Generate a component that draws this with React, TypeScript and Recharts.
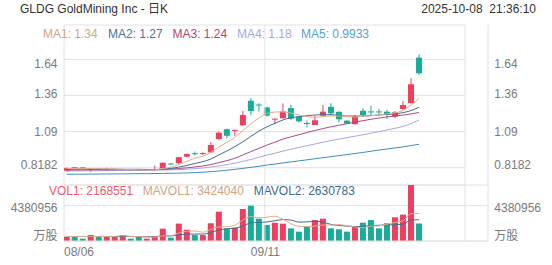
import React from 'react';
import { ComposedChart, Bar, Line, XAxis, YAxis, CartesianGrid, ReferenceLine } from 'recharts';

const dates = [
  '08/06', '08/07', '08/08', '08/11', '08/12', '08/13', '08/14', '08/15', '08/18', '08/19',
  '08/20', '08/21', '08/22', '08/25', '08/26', '08/27', '08/28', '08/29', '09/02', '09/03',
  '09/04', '09/05', '09/08', '09/09', '09/10', '09/11', '09/12', '09/15', '09/16', '09/17',
  '09/18', '09/19', '09/22', '09/23', '09/24', '09/25', '09/26', '09/29', '09/30', '10/01',
  '10/02', '10/03', '10/06', '10/07', '10/08',
];

const opens = [
  0.795, 0.822, 0.821, 0.806, 0.809, 0.803, 0.803, 0.802, 0.804, 0.803,
  0.800, 0.801, 0.816, 0.850, 0.853, 0.902, 0.928, 0.925, 0.935, 1.035,
  1.110, 1.098, 1.140, 1.326, 1.297, 1.275, 1.185, 1.193, 1.270, 1.205,
  1.157, 1.142, 1.213, 1.280, 1.242, 1.175, 1.148, 1.250, 1.245, 1.245,
  1.243, 1.205, 1.263, 1.307, 1.653,
];
const closes = [
  0.815, 0.816, 0.814, 0.809, 0.806, 0.806, 0.805, 0.804, 0.801, 0.800,
  0.802, 0.806, 0.856, 0.845, 0.898, 0.922, 0.925, 0.930, 0.990, 1.084,
  1.060, 1.105, 1.218, 1.248, 1.292, 1.213, 1.190, 1.245, 1.190, 1.170,
  1.153, 1.178, 1.243, 1.230, 1.185, 1.152, 1.210, 1.218, 1.240, 1.240,
  1.218, 1.238, 1.294, 1.451, 1.534,
];
const highs = [
  0.820, 0.824, 0.823, 0.812, 0.811, 0.818, 0.807, 0.806, 0.806, 0.805,
  0.804, 0.835, 0.858, 0.853, 0.900, 0.925, 0.940, 0.935, 1.013, 1.090,
  1.115, 1.107, 1.249, 1.345, 1.307, 1.280, 1.192, 1.305, 1.295, 1.210,
  1.175, 1.213, 1.294, 1.307, 1.245, 1.178, 1.218, 1.268, 1.288, 1.265,
  1.256, 1.248, 1.324, 1.497, 1.679,
];
const lows = [
  0.790, 0.812, 0.811, 0.785, 0.802, 0.800, 0.800, 0.799, 0.798, 0.797,
  0.798, 0.799, 0.814, 0.842, 0.840, 0.897, 0.910, 0.915, 0.930, 1.030,
  1.040, 1.060, 1.135, 1.218, 1.243, 1.205, 1.147, 1.190, 1.180, 1.160,
  1.124, 1.140, 1.210, 1.213, 1.163, 1.148, 1.145, 1.207, 1.213, 1.213,
  1.188, 1.193, 1.260, 1.305, 1.521,
];

const ma1 = [
  0.812, 0.813, 0.813, 0.812, 0.811, 0.810, 0.808, 0.806, 0.804, 0.802,
  0.801, 0.802, 0.812, 0.822, 0.842, 0.866, 0.890, 0.905, 0.935, 0.975,
  1.010, 1.050, 1.100, 1.150, 1.195, 1.230, 1.240, 1.242, 1.232, 1.218,
  1.205, 1.200, 1.205, 1.210, 1.210, 1.205, 1.203, 1.207, 1.212, 1.218,
  1.226, 1.234, 1.252, 1.292, 1.345,
];
const ma2 = [
  0.806, 0.807, 0.808, 0.808, 0.808, 0.807, 0.807, 0.806, 0.806, 0.806,
  0.805, 0.804, 0.809, 0.813, 0.823, 0.835, 0.850, 0.864, 0.884, 0.915,
  0.945, 0.978, 1.015, 1.055, 1.095, 1.128, 1.155, 1.180, 1.197, 1.205,
  1.212, 1.218, 1.220, 1.220, 1.214, 1.210, 1.210, 1.210, 1.213, 1.218,
  1.222, 1.228, 1.235, 1.252, 1.276,
];
const ma3 = [
  0.800, 0.801, 0.801, 0.802, 0.802, 0.802, 0.803, 0.803, 0.803, 0.803,
  0.804, 0.804, 0.806, 0.808, 0.812, 0.817, 0.824, 0.831, 0.842, 0.857,
  0.872, 0.890, 0.915, 0.940, 0.965, 0.990, 1.012, 1.035, 1.052, 1.068,
  1.085, 1.100, 1.115, 1.128, 1.140, 1.152, 1.163, 1.175, 1.185, 1.195,
  1.203, 1.210, 1.217, 1.226, 1.237,
];
const ma4 = [
  0.792, 0.793, 0.794, 0.795, 0.795, 0.796, 0.796, 0.797, 0.797, 0.798,
  0.798, 0.799, 0.800, 0.802, 0.804, 0.807, 0.811, 0.816, 0.823, 0.832,
  0.842, 0.853, 0.866, 0.881, 0.897, 0.914, 0.928, 0.944, 0.958, 0.972,
  0.985, 0.998, 1.011, 1.024, 1.035, 1.046, 1.057, 1.068, 1.080, 1.092,
  1.104, 1.117, 1.131, 1.152, 1.180,
];
const ma5 = [
  0.768, 0.769, 0.769, 0.770, 0.770, 0.771, 0.771, 0.772, 0.772, 0.773,
  0.773, 0.774, 0.775, 0.776, 0.777, 0.779, 0.781, 0.784, 0.788, 0.793,
  0.799, 0.806, 0.813, 0.821, 0.829, 0.838, 0.846, 0.854, 0.862, 0.870,
  0.878, 0.886, 0.894, 0.902, 0.910, 0.918, 0.926, 0.934, 0.943, 0.952,
  0.960, 0.968, 0.976, 0.986, 0.996,
];

const volumes = [
  530000, 620000, 290000, 740000, 580000, 620000, 620000, 740000, 290000, 500000,
  290000, 580000, 1530000, 410000, 2150000, 1400000, 740000, 740000, 2200000, 3640000,
  1570000, 1650000, 3970000, 4380000, 2770000, 1990000, 2270000, 2150000, 1570000, 1160000,
  1780000, 2600000, 2770000, 1570000, 1450000, 1160000, 1780000, 2270000, 2600000, 1570000,
  2200000, 2940000, 3270000, 6950000, 2168551,
];
const mavol1 = [
  560000, 560000, 550000, 560000, 552000, 570000, 570000, 660000, 570000, 554000,
  488000, 480000, 638000, 662000, 992000, 1214000, 1246000, 1088000, 1446000, 1744000,
  1778000, 1960000, 2606000, 3042000, 2868000, 2952000, 3076000, 2712000, 2150000, 1828000,
  1786000, 1852000, 1976000, 1976000, 2034000, 1910000, 1746000, 1646000, 1852000, 1876000,
  2084000, 2316000, 2516000, 3394000, 3424040,
];
const mavol2 = [
  560000, 560000, 560000, 560000, 560000, 560000, 560000, 560000, 555000, 553000,
  529000, 525000, 649000, 616000, 773000, 851000, 863000, 863000, 1054000, 1368000,
  1496000, 1603000, 1847000, 2244000, 2306000, 2365000, 2518000, 2659000, 2596000, 2348000,
  2369000, 2464000, 2344000, 2063000, 1931000, 1848000, 1799000, 1811000, 1914000, 1955000,
  1997000, 2031000, 2081000, 2623000, 2630783,
];

const priceTicks = [0.8182, 1.0921, 1.366, 1.6399];
const priceTickLabels = ['0.8182', '1.09', '1.36', '1.64'];
const priceTickDy = [-2.5, 0, -1, 4.3];
const volTicks = [0, 4380956];
const volTickLabels = ['万股', '4380956'];
const volTickDy = [-5.5, 2];
const xTicks = [0, 25];

const RED = '#F03E5E';
const TEAL = '#17AD98';
const C_MA1 = '#E2AE88';
const C_MA2 = '#3E6F92';
const C_MA3 = '#B04A84';
const C_MA4 = '#A9A8E6';
const C_MA5 = '#3D8FC0';
const C_MA1_TXT = '#D4A482';
const C_MA2_TXT = '#3D79A6';
const C_MA3_TXT = '#B0457F';
const C_MA4_TXT = '#A6A6E4';
const C_MA5_TXT = '#56A0D6';
const GRID = '#E2E2E2';
const AXIS_TXT = '#7A7A7A';
const FONT = '"Liberation Sans", Arial, "Noto Sans CJK SC", sans-serif';

const rows = dates.map((d, i) => ({
  i,
  date: d,
  open: opens[i],
  close: closes[i],
  high: highs[i],
  low: lows[i],
  range: [lows[i], highs[i]],
  ma1: ma1[i],
  ma2: ma2[i],
  ma3: ma3[i],
  ma4: ma4[i],
  ma5: ma5[i],
  vol: volumes[i],
  mavol1: mavol1[i],
  mavol2: mavol2[i],
}));

const Candle = (p: any) => {
  const { x, y, width, height, payload } = p;
  if (payload == null || y == null || height == null) return null;
  const top = Math.min(y, y + height);
  const bot = Math.max(y, y + height);
  const k = (bot - top) / (payload.high - payload.low);
  const yOf = (v: number) => top + (payload.high - v) * k;
  const up = payload.close >= payload.open;
  const color = up ? RED : TEAL;
  const cx = x + width / 2;
  const bTop = yOf(Math.max(payload.open, payload.close));
  const bBot = yOf(Math.min(payload.open, payload.close));
  return (
    <g>
      <line x1={cx} x2={cx} y1={top} y2={bot} stroke={color} strokeWidth={1} />
      <rect x={x} y={bTop} width={width} height={Math.max(1, bBot - bTop)} fill={color} />
    </g>
  );
};

const VolBar = (p: any) => {
  const { x, y, width, height, payload } = p;
  if (payload == null) return null;
  const color = payload.close >= payload.open ? RED : TEAL;
  const top = Math.min(y, y + height);
  return <rect x={x} y={top} width={width} height={Math.abs(height)} fill={color} />;
};

// left labels end at x=57.5 ; right labels start at x=494.3
const mkTick = (labels: string[], values: number[], dys: number[], side: 'L' | 'R') => (p: any) => {
  const idx = values.indexOf(p.payload.value);
  if (idx < 0) return null;
  return (
    <text
      x={side === 'L' ? 57.5 : 494.3}
      y={p.y + dys[idx]}
      textAnchor={side === 'L' ? 'end' : 'start'}
      dominantBaseline="central"
      fill={AXIS_TXT}
      fontSize={12}
      fontFamily={FONT}
    >
      {labels[idx]}
    </text>
  );
};

const XTick = (p: any) => {
  const v = p.payload.value;
  const first = v === xTicks[0];
  return (
    <text
      x={first ? 64 : p.x - 1.5}
      y={251.7}
      textAnchor={first ? 'start' : 'middle'}
      dominantBaseline="central"
      fill={AXIS_TXT}
      fontSize={12}
      fontFamily={FONT}
    >
      {dates[v]}
    </text>
  );
};

const GridShiftLine = (p: any) => (
  <line x1={p.x1 - 2} x2={p.x2 - 2} y1={p.y1} y2={p.y2} stroke={GRID} strokeWidth={1} />
);

const T = (props: any) => (
  <text dominantBaseline="central" fontSize={12} fontFamily={FONT} {...props} />
);

export default function App() {
  const abs: React.CSSProperties = { position: 'absolute', left: 0, top: 0 };
  return (
    <div style={{ position: 'absolute', left: 0, top: 0, width: 552, height: 265, background: '#fff', overflow: 'hidden' }}>
      <svg width={552} height={265} style={abs}>
        <line x1={64} x2={64} y1={25} y2={241} stroke={GRID} />
        <line x1={465} x2={465} y1={25} y2={241} stroke={GRID} />
        <line x1={488} x2={488} y1={25} y2={241} stroke={GRID} />
        <T x={20} y={9} fill="#333">GLDG GoldMining Inc - 日K</T>
        <T x={536} y={9} fill="#333" textAnchor="end" style={{ whiteSpace: 'pre' }}>2025-10-08  21:36:10</T>
        <T x={43} y={34} fill={C_MA1_TXT}>MA1: 1.34</T>
        <T x={108} y={34} fill={C_MA2_TXT}>MA2: 1.27</T>
        <T x={172.5} y={34} fill={C_MA3_TXT}>MA3: 1.24</T>
        <T x={237} y={34} fill={C_MA4_TXT}>MA4: 1.18</T>
        <T x={301} y={34} fill={C_MA5_TXT}>MA5: 0.9933</T>
        <T x={49} y={191} fill="#EB5A6E">VOL1: 2168551</T>
        <T x={142.7} y={191} fill={C_MA1_TXT}>MAVOL1: 3424040</T>
        <T x={253.7} y={191} fill="#3C6A92">MAVOL2: 2630783</T>
      </svg>

      <div style={abs}>
        <ComposedChart width={552} height={265} data={rows} margin={{ top: 25, right: 0, bottom: 80, left: 0 }}>
          <XAxis dataKey="i" type="number" scale="linear" domain={[-0.337, 49.74]} allowDataOverflow hide />
          <YAxis yAxisId="L" orientation="left" type="number" domain={[0.6871, 1.9]} allowDataOverflow
            ticks={priceTicks} interval={0} width={64} tickSize={0} tickMargin={0} axisLine={false} tickLine={false}
            tick={mkTick(priceTickLabels, priceTicks, priceTickDy, 'L')} />
          <YAxis yAxisId="R" orientation="right" type="number" domain={[0.6871, 1.9]} allowDataOverflow
            ticks={priceTicks} interval={0} width={87} tickSize={0} tickMargin={0} axisLine={false} tickLine={false}
            tick={mkTick(priceTickLabels, priceTicks, priceTickDy, 'R')} />
          <CartesianGrid yAxisId="L" vertical={false} stroke={GRID} />
          <ReferenceLine yAxisId="L" x={25} stroke={GRID} shape={GridShiftLine} />
          <Line yAxisId="L" dataKey="ma5" stroke={C_MA5} strokeWidth={1} dot={false} type="monotone" isAnimationActive={false} />
          <Line yAxisId="L" dataKey="ma4" stroke={C_MA4} strokeWidth={1} dot={false} type="monotone" isAnimationActive={false} />
          <Line yAxisId="L" dataKey="ma3" stroke={C_MA3} strokeWidth={1} dot={false} type="monotone" isAnimationActive={false} />
          <Line yAxisId="L" dataKey="ma2" stroke={C_MA2} strokeWidth={1} dot={false} type="monotone" isAnimationActive={false} />
          <Line yAxisId="L" dataKey="ma1" stroke={C_MA1} strokeWidth={1} dot={false} type="monotone" isAnimationActive={false} />
          <Bar yAxisId="L" dataKey="range" barSize={6} shape={Candle} isAnimationActive={false} />
        </ComposedChart>
      </div>

      <div style={abs}>
        <ComposedChart width={552} height={265} data={rows} margin={{ top: 185, right: 0, bottom: 0, left: 0 }}>
          <XAxis dataKey="i" type="number" scale="linear" domain={[-0.337, 52.62]} allowDataOverflow
            ticks={xTicks} interval={0} height={24} tickSize={0} tickMargin={0}
            axisLine={{ stroke: GRID }} tickLine={false} tick={XTick} />
          <YAxis yAxisId="L" orientation="left" type="number" domain={[0, 6950000]} allowDataOverflow
            ticks={volTicks} interval={0} width={64} tickSize={0} tickMargin={0} axisLine={false} tickLine={false}
            tick={mkTick(volTickLabels, volTicks, volTickDy, 'L')} />
          <YAxis yAxisId="R" orientation="right" type="number" domain={[0, 6950000]} allowDataOverflow
            ticks={volTicks} interval={0} width={64} tickSize={0} tickMargin={0} axisLine={false} tickLine={false}
            tick={mkTick(volTickLabels, volTicks, volTickDy, 'R')} />
          <CartesianGrid yAxisId="L" vertical={false} stroke={GRID} />
          <ReferenceLine yAxisId="L" x={25} stroke={GRID} shape={GridShiftLine} />
          <Bar yAxisId="L" dataKey="vol" barSize={6} shape={VolBar} isAnimationActive={false} />
          <Line yAxisId="L" dataKey="mavol2" stroke={C_MA2} strokeWidth={1} dot={false} type="monotone" isAnimationActive={false} />
          <Line yAxisId="L" dataKey="mavol1" stroke={C_MA1} strokeWidth={1} dot={false} type="monotone" isAnimationActive={false} />
        </ComposedChart>
      </div>
    </div>
  );
}
